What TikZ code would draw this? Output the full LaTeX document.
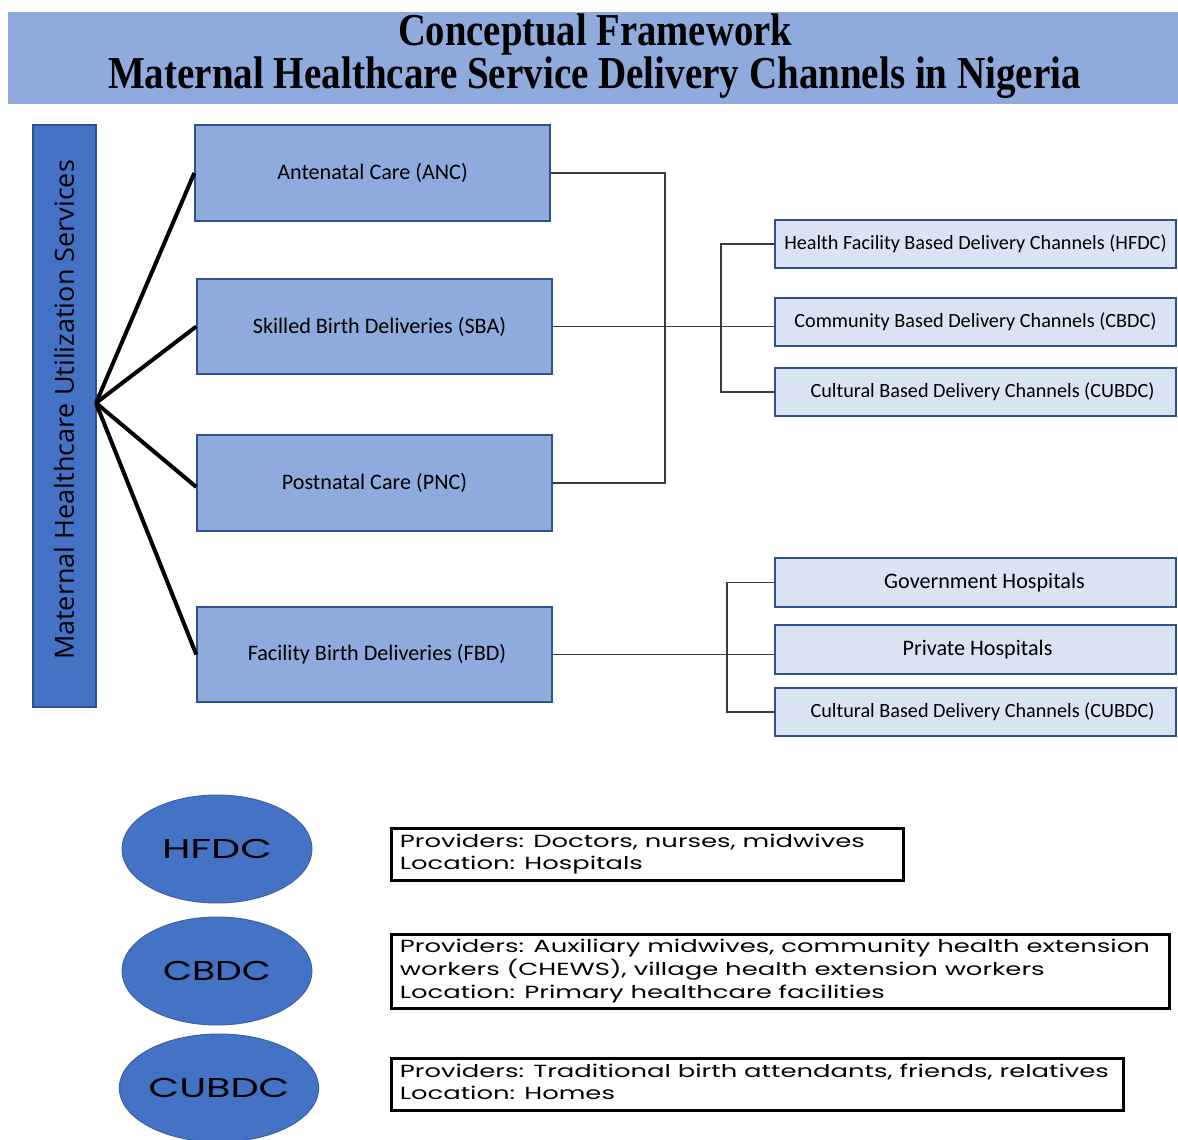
\documentclass[tikz,border=0pt]{standalone}
\usepackage{fontspec}
\usepackage{graphicx}
\usetikzlibrary{shapes.geometric}
\setmainfont{Liberation Serif}
\newfontfamily\titlefont{Liberation Serif}
\newfontfamily\boxfont{Carlito}
\newfontfamily\sidefont{Open Sans}
\newfontfamily\geofont{Poppins}
\definecolor{bannerc}{HTML}{8FAADC}
\definecolor{midc}{HTML}{8FAADC}
\definecolor{darkc}{HTML}{4472C4}
\definecolor{lightc}{HTML}{DAE3F3}
\definecolor{bordc}{HTML}{2F528F}
\definecolor{connc}{HTML}{3A3A3A}
\newlength\lw
\newcommand\lowfnt{\geofont\fontsize{10}{12.8}\selectfont}
\newcommand\lowtext[1]{\begingroup\lowfnt\settowidth{\lw}{Providers: Doctors, nurses, midwives}\pgfmathsetmacro\lsx{9.3cm/\lw}\scalebox{\lsx}[1]{\begin{tabular}{@{}l@{}}#1\end{tabular}}\endgroup}
\tikzset{
  banner/.style={fill=bannerc, minimum width=23.4cm, minimum height=1.84cm, inner sep=0pt},
  titletxt/.style={anchor=base, inner sep=0pt, font=\titlefont\bfseries\fontsize{26}{26}\selectfont},
  sidebox/.style={draw=bordc, fill=darkc, line width=0.03cm, minimum width=1.26cm, minimum height=11.64cm, inner sep=0pt},
  midbox/.style={draw=bordc, fill=midc, line width=0.03cm, minimum width=7.1cm, minimum height=1.92cm, inner sep=0pt, font=\boxfont\fontsize{12.6}{15}\selectfont},
  rbox/.style={draw=bordc, fill=lightc, line width=0.03cm, minimum width=8.02cm, minimum height=0.96cm, inner sep=0pt, font=\boxfont\fontsize{11.5}{14}\selectfont},
  rboxb/.style={rbox, font=\boxfont\fontsize{12.6}{15}\selectfont},
  ell/.style={ellipse, fill=darkc, draw=darkc!85!black, line width=0.02cm, minimum width=3.8cm, minimum height=2.16cm, inner sep=0pt, font=\geofont\fontsize{15.5}{18}\selectfont},
  txtbox/.style={draw=black, line width=0.06cm, inner sep=0pt},
  conn/.style={draw=connc, line width=0.03cm},
  fan/.style={draw=black, line width=0.08cm}
}
\begin{document}
\begin{tikzpicture}[x=0.02cm, y=-0.02cm]
\useasboundingbox (0,0) rectangle (1178,1140);

% banner and title
\node[banner] (ban) at (593,58) {};
\node[titletxt] (title1) at (595,45) {\resizebox{7.88cm}{\height}{Conceptual Framework}};
\node[titletxt] (title2) at (594.5,88) {\resizebox{19.46cm}{\height}{Maternal Healthcare Service Delivery Channels in Nigeria}};

% left side box
\node[sidebox] (side) at (64.5,416) {};
\node[rotate=90, inner sep=0pt, font=\sidefont\fontsize{15}{18}\selectfont] (sidetxt) at (64,410) {\resizebox{10cm}{\height}{Maternal Healthcare Utilization Services}};
\coordinate (hub) at (96,403);

% middle boxes
\node[midbox] (anc) at (372.5,173) {Antenatal Care (ANC)};
\node[midbox, minimum height=1.9cm] (sba) at (374.5,326.5) {\hspace{0.2cm}Skilled Birth Deliveries (SBA)};
\node[midbox] (pnc) at (374.5,483) {Postnatal Care (PNC)};
\node[midbox, minimum height=1.9cm] (fbd) at (374.5,654.5) {\hspace{0.1cm}Facility Birth Deliveries (FBD)};

% fan lines
\draw[fan] (hub) -- (anc.west);
\draw[fan] (hub) -- (sba.west);
\draw[fan] (hub) -- ([yshift=-0.08cm]pnc.west);
\draw[fan] (hub) -- (fbd.west);

% right boxes
\node[rbox] (hfdc) at (975.5,244) {Health Facility Based Delivery Channels (HFDC)};
\node[rbox] (cbdc) at (975.5,322) {Community Based Delivery Channels (CBDC)};
\node[rbox] (cubdc) at (975.5,392) {\hspace{0.28cm}Cultural Based Delivery Channels (CUBDC)};
\node[rboxb, minimum height=0.98cm] (gov) at (975.5,582.5) {\hspace{0.36cm}Government Hospitals};
\node[rboxb, minimum height=0.98cm] (priv) at (975.5,649.5) {\hspace{0.08cm}Private Hospitals};
\node[rbox] (cubdcb) at (975.5,712) {\hspace{0.28cm}Cultural Based Delivery Channels (CUBDC)};

% connectors
\coordinate (j1) at (665,326.5);
\coordinate (j2) at (721,326.5);
\coordinate (j3) at (727,655);
\draw[conn] (anc.east) -| (j1) |- (pnc.east);
\draw[conn] (sba.east) -- (sba.east -| cbdc.west);
\draw[conn] (hfdc.west) -| (j2) |- (cubdc.west);
\draw[conn] (fbd.east) -- (fbd.east -| priv.west);
\draw[conn] (gov.west) -| (j3) |- (cubdcb.west);

% ellipses
\node[ell] (e1) at (217,849) {\resizebox{2.2cm}{\height}{HFDC}};
\node[ell] (e2) at (217,971) {\resizebox{2.16cm}{\height}{CBDC}};
\node[ell, minimum width=3.84cm] (e3) at (219,1088) {\resizebox{2.82cm}{\height}{CUBDC}};

% text boxes
\node[txtbox, minimum width=10.26cm, minimum height=1.04cm] (b1) at (647.5,854) {};
\node[txtbox, minimum width=15.58cm, minimum height=1.48cm] (b2) at (780.5,971) {};
\node[txtbox, minimum width=14.66cm, minimum height=1.04cm] (b3) at (757.5,1084) {};
\node[anchor=west, inner sep=0pt] (t1) at ([xshift=0.2cm]b1.west) {\lowtext{Providers: Doctors, nurses, midwives\\Location: Hospitals}};
\node[anchor=west, inner sep=0pt] (t2) at ([xshift=0.2cm]b2.west) {\lowtext{Providers: Auxiliary midwives, community health extension\\workers (CHEWS), village health extension workers\\Location: Primary healthcare facilities}};
\node[anchor=west, inner sep=0pt] (t3) at ([xshift=0.2cm]b3.west) {\lowtext{Providers: Traditional birth attendants, friends, relatives\\Location: Homes}};
\end{tikzpicture}
\end{document}
